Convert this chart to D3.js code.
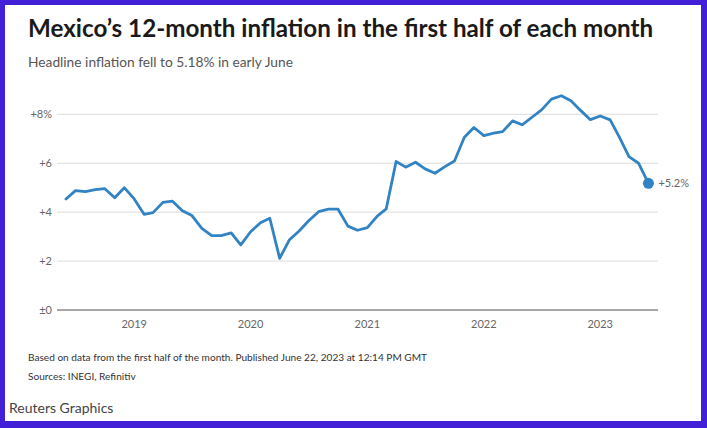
<!DOCTYPE html>
<html>
<head>
<meta charset="utf-8">
<script src="https://cdn.jsdelivr.net/npm/d3@7"></script>
<style>
  html, body { margin: 0; padding: 0; background: #4120d8; }
  svg { display: block; font-family: Lato, 'Noto Sans', sans-serif; }
</style>
</head>
<body>
<svg id="chart"></svg>
<script>
// monthly readings, first half of month, Jun 2018 - Jun 2023
const startMonth = '2018-06'
const inflation = [
  4.54, 4.88, 4.84, 4.92, 4.96, 4.59, 5.00,
  4.54, 3.91, 3.98, 4.40, 4.45, 4.06, 3.86, 3.34, 3.04, 3.04, 3.15, 2.66,
  3.20, 3.57, 3.75, 2.11, 2.86, 3.23, 3.65, 4.02, 4.12, 4.12, 3.43, 3.26,
  3.37, 3.84, 4.13, 6.07, 5.84, 6.04, 5.77, 5.59, 5.86, 6.09, 7.06, 7.46,
  7.13, 7.23, 7.29, 7.73, 7.57, 7.88, 8.18, 8.62, 8.76, 8.55, 8.15, 7.78,
  7.93, 7.77, 7.09, 6.27, 6.00, 5.18
]
const yTicks = [0, 2, 4, 6, 8]
const yTickLabels = ['±0', '+2', '+4', '+6', '+8%']
const xTicks = ['2019', '2020', '2021', '2022', '2023']
const lastLabel = '+5.2%'

const width = 707
const height = 428
const parseMonth = d3.timeParse('%Y-%m')
const start = parseMonth(startMonth)
const dataset = inflation.map((v, i) => ({ date: d3.timeMonth.offset(start, i), value: v }))

const svg = d3.select('#chart').attr('width', width).attr('height', height)

// white card inside the coloured frame
svg.append('rect')
  .attr('x', 5).attr('y', 5)
  .attr('width', 696).attr('height', 416)
  .attr('fill', '#fff')

svg.append('text')
  .text('Mexico’s 12-month inflation in the first half of each month')
  .attr('x', 28).attr('y', 37)
  .attr('fill', '#1a1a1a')
  .style('font-size', '24.2px')
  .style('font-weight', 'bold')

svg.append('text')
  .text('Headline inflation fell to 5.18% in early June')
  .attr('x', 28).attr('y', 67)
  .attr('fill', '#555')
  .style('font-size', '13.75px')

const x = d3.scaleTime()
  .domain([new Date(2018, 4, 4), new Date(2023, 6, 1)])
  .range([57, 658])
const y = d3.scaleLinear().domain([0, 8]).range([310, 114.3])

// gridlines
svg.append('g')
  .selectAll('line')
  .data(yTicks)
  .enter()
  .append('line')
  .attr('x1', x.range()[0])
  .attr('x2', x.range()[1])
  .attr('y1', d => y(d))
  .attr('y2', d => y(d))
  .attr('stroke', d => d === 0 ? '#8a8a8a' : '#dcdcdc')
  .attr('stroke-width', d => d === 0 ? 1.6 : 1)

svg.append('g')
  .selectAll('text')
  .data(yTicks)
  .enter()
  .append('text')
  .attr('x', 52)
  .attr('y', d => y(d))
  .attr('dy', 4)
  .attr('text-anchor', 'end')
  .attr('fill', '#666')
  .style('font-size', '11px')
  .text((d, i) => yTickLabels[i])

svg.append('g')
  .selectAll('text')
  .data(xTicks)
  .enter()
  .append('text')
  .attr('x', d => x(d3.timeParse('%Y')(d)))
  .attr('y', 328)
  .attr('text-anchor', 'middle')
  .attr('fill', '#666')
  .style('font-size', '11px')
  .text(d => d)

const line = d3.line()
  .x(d => x(d.date))
  .y(d => y(d.value))

svg.append('path')
  .datum(dataset)
  .attr('d', line)
  .attr('fill', 'none')
  .attr('stroke', '#3183c3')
  .attr('stroke-width', 2.8)
  .attr('stroke-linejoin', 'round')
  .attr('stroke-linecap', 'round')

const last = dataset[dataset.length - 1]
svg.append('circle')
  .attr('cx', x(last.date))
  .attr('cy', y(last.value))
  .attr('r', 5.5)
  .attr('fill', '#3183c3')

svg.append('text')
  .text(lastLabel)
  .attr('x', x(last.date) + 10)
  .attr('y', y(last.value))
  .attr('dy', 4)
  .attr('fill', '#666')
  .style('font-size', '11px')

// footer
svg.append('text')
  .text('Based on data from the first half of the month. Published June 22, 2023 at 12:14 PM GMT')
  .attr('x', 28).attr('y', 361)
  .attr('fill', '#333')
  .style('font-size', '10.1px')

svg.append('text')
  .text('Sources: INEGI, Refinitiv')
  .attr('x', 28).attr('y', 380)
  .attr('fill', '#333')
  .style('font-size', '10.1px')

svg.append('text')
  .text('Reuters Graphics')
  .attr('x', 9).attr('y', 413)
  .attr('fill', '#444')
  .style('font-size', '14px')
</script>
</body>
</html>
